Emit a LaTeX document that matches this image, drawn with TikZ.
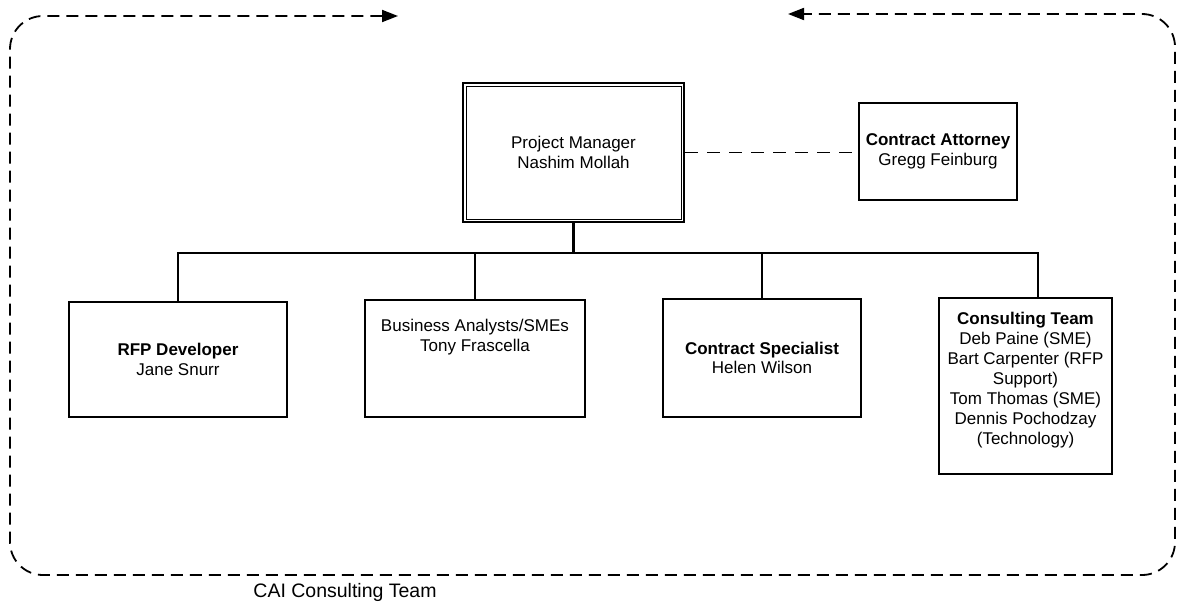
\documentclass[tikz,border=0pt]{standalone}
\usepackage{fontspec}
\setmainfont{Liberation Sans}
\usetikzlibrary{arrows.meta}
\newcommand\boxfont{\fontsize{17}{19.6}\selectfont}
\begin{document}
\begin{tikzpicture}[x=1pt,y=-1pt,
  orgbox/.style={draw, line width=1.4pt, inner sep=0pt, align=center, font=\boxfont},
  boxtext/.style={inner sep=0pt, align=center, font=\boxfont},
  treeline/.style={line width=1.6pt},
  dashlink/.style={line width=1.6pt, dash pattern=on 13pt off 9pt},
  frameline/.style={line width=1.8pt, dash pattern=on 12pt off 7pt, rounded corners=33pt,
     {Triangle[length=16pt,width=12pt]}-{Triangle[length=16pt,width=12pt]}}
]
\fill[white] (0,0) rectangle (1177,605);
\useasboundingbox (0,0) rectangle (1177,605);

% outer dashed frame with two arrows
\coordinate (fstart) at (398,16);
\coordinate (fend) at (788,14);
\draw[frameline] (fstart) -- (10,16) -- (10,575) -- (1175,575) -- (1175,14) -- (fend);

% project manager (double border)
\node[orgbox, line width=2pt, minimum width=221pt, minimum height=139pt] (pm) at (573.5,152.5)
  {Project Manager\\Nashim Mollah};
\draw[line width=0.9pt] ([shift={(4pt,-4pt)}]pm.north west) rectangle ([shift={(-4pt,4pt)}]pm.south east);

% contract attorney
\node[orgbox, minimum width=158pt, minimum height=97pt] (att) at (938,151.5)
  {\textbf{Contract Attorney}\\Gregg Feinburg};
\draw[dashlink] (pm.east) -- (pm.east -| att.west);

% second level boxes
\node[orgbox, minimum width=218pt, minimum height=115pt] (rfp) at (178,359.5)
  {\textbf{RFP Developer}\\Jane Snurr};
\node[orgbox, minimum width=220pt, minimum height=117pt] (ba) at (475,358.5) {};
\node[boxtext, anchor=north] (batext) at (475,319) {Business Analysts/SMEs\\Tony Frascella};
\node[orgbox, minimum width=198pt, minimum height=118pt] (cs) at (762,358)
  {\textbf{Contract Specialist}\\Helen Wilson};
\node[orgbox, minimum width=173pt, minimum height=176pt] (con) at (1025.5,386) {};
\node[boxtext, anchor=north, font=\fontsize{17}{20}\selectfont] (context) at (1025.5,312)
  {\textbf{Consulting Team}\\Deb Paine (SME)\\Bart Carpenter (RFP\\Support)\\Tom Thomas (SME)\\Dennis Pochodzay\\(Technology)};

% tree connectors
\coordinate (bus) at (573.5,253);
\coordinate (conin) at (1038,298);
\draw[line width=2.6pt] (pm.south) -- (bus);
\draw[treeline] (bus) -| (rfp.north);
\draw[treeline] (bus) -| (ba.north);
\draw[treeline] (bus) -| (cs.north);
\draw[treeline] (bus) -| (conin);

% caption
\node[inner sep=0pt, font=\fontsize{19.5}{22}\selectfont] (cap) at (345,592) {CAI Consulting Team};
\end{tikzpicture}
\end{document}
